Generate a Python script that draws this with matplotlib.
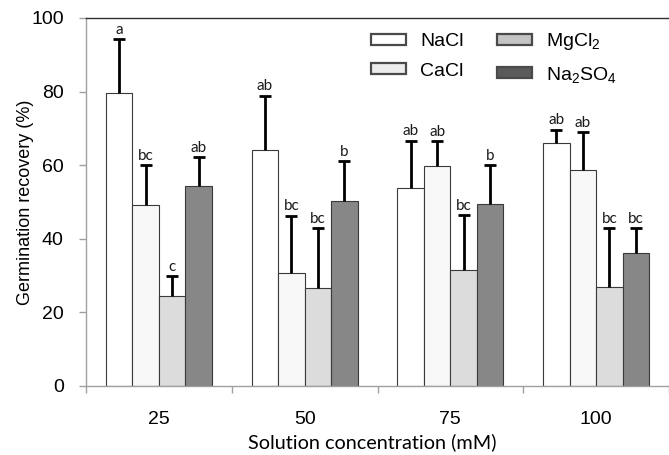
import numpy as np
import matplotlib
matplotlib.use("Agg")
import matplotlib.pyplot as plt

plt.rcParams["font.family"] = ["Liberation Sans", "DejaVu Sans"]
plt.rcParams["mathtext.fontset"] = "custom"
plt.rcParams["mathtext.rm"] = "Liberation Sans"
plt.rcParams["mathtext.default"] = "regular"

# data
concentrations = ["25", "50", "75", "100"]
salts = ["NaCl", "CaCl", "MgCl$_2$", "Na$_2$SO$_4$"]
means = {
    "NaCl": [79.5, 64.0, 53.9, 66.0],
    "CaCl": [49.1, 30.6, 59.9, 58.8],
    "MgCl2": [24.5, 26.7, 31.4, 26.9],
    "Na2SO4": [54.3, 50.2, 49.4, 36.1],
}
upper_err = {
    "NaCl": [14.7, 14.9, 12.8, 3.7],
    "CaCl": [11.0, 15.7, 6.6, 10.2],
    "MgCl2": [5.4, 16.2, 15.0, 16.0],
    "Na2SO4": [8.0, 10.9, 10.7, 6.8],
}
letters = {
    "NaCl": ["a", "ab", "ab", "ab"],
    "CaCl": ["bc", "bc", "ab", "ab"],
    "MgCl2": ["c", "bc", "bc", "bc"],
    "Na2SO4": ["ab", "b", "b", "bc"],
}
bar_colors = ["#ffffff", "#f8f8f8", "#dcdcdc", "#878787"]
legend_colors = ["#ffffff", "#ececec", "#c4c4c4", "#5a5a5a"]

fig = plt.figure(figsize=(6.69, 4.55), dpi=100)
ax = fig.add_axes([86 / 669, 1 - 386 / 455, 1 - 86 / 669, (386 - 18) / 455])

x = np.arange(len(concentrations))
width = 0.182
keys = list(means.keys())
bars = []
for i, key in enumerate(keys):
    pos = x + (i - 1.5) * width
    m = np.array(means[key])
    e = np.array(upper_err[key])
    b = ax.bar(pos, m, width, color=bar_colors[i], edgecolor="#3a3a3a",
               linewidth=0.8, label=salts[i], zorder=2)
    bars.append(b)
    # upper error only, cap on top
    ax.vlines(pos, m, m + e, color="black", linewidth=2, zorder=3)
    ax.plot(pos, m + e, ls="none", marker="_", markersize=8, mew=2,
            color="black", zorder=3)
    for p, top, t in zip(pos, m + e, letters[key]):
        ax.text(p, top + 0.6, t, ha="center", va="bottom", fontsize=11,
                family=["Lato", "DejaVu Sans"], color="#1a1a1a")

ax.set_xlim(-0.5, 3.477)
ax.set_ylim(0, 100)
ax.set_yticks(range(0, 101, 20))
ax.set_xticks(x)
ax.set_xticklabels(concentrations)
ax.set_xticks(np.arange(-0.5, 3.6, 1.0), minor=True)
ax.tick_params(axis="x", which="major", length=0, pad=18, labelsize=14)
ax.tick_params(axis="x", which="minor", length=5, color="#a0a0a0", width=1)
ax.tick_params(axis="y", length=5, color="#a0a0a0", width=1, pad=11, labelsize=14)

for s in ["left", "bottom"]:
    ax.spines[s].set_color("#a0a0a0")
    ax.spines[s].set_linewidth(1)
ax.spines["top"].set_color("#303030")
ax.spines["top"].set_linewidth(1)
ax.spines["right"].set_visible(False)

ax.set_ylabel("Germination recovery (%)", fontsize=13)
ax.yaxis.set_label_coords(-(86 - 34) / 583, 0.5)
ax.set_xlabel("Solution concentration (mM)", fontsize=14.3,
              family=["Lato", "DejaVu Sans"])
ax.xaxis.set_label_coords((372 - 86) / 583, -(433 - 386) / 368)

leg = fig.legend(handles=bars, labels=salts, ncol=2, loc="upper left",
                 bbox_to_anchor=(371 / 669, 1 - 31 / 455), frameon=False,
                 fontsize=14, handlelength=1.8, handleheight=0.5,
                 handletextpad=0.72, columnspacing=1.7, labelspacing=0.65,
                 borderpad=0, borderaxespad=0)
for p, c in zip(leg.get_patches(), legend_colors):
    p.set_facecolor(c)
    p.set_edgecolor("#4a4a4a")
    p.set_linewidth(1.6)

fig.savefig("out.png", dpi=100)
